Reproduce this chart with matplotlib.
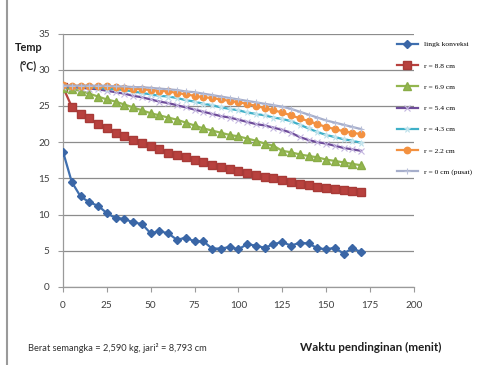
import matplotlib
matplotlib.use("Agg")
import matplotlib.pyplot as plt
from matplotlib.lines import Line2D

# Cooling time (minutes), every 5 minutes
waktu = list(range(0, 175, 5))

lingk_konveksi = [18.7, 14.5, 12.5, 11.7, 11.2, 10.2, 9.5, 9.4, 8.9, 8.7, 7.4, 7.7,
                  7.4, 6.5, 6.8, 6.3, 6.3, 5.3, 5.3, 5.5, 5.2, 5.9, 5.7, 5.4, 5.9,
                  6.2, 5.7, 6.1, 6.0, 5.35, 5.2, 5.4, 4.6, 5.35, 4.8]
r_8_8 = [27.6, 24.9, 23.9, 23.3, 22.5, 21.9, 21.2, 20.8, 20.3, 19.85, 19.4, 19.0,
         18.5, 18.2, 17.9, 17.5, 17.2, 16.9, 16.6, 16.3, 16.0, 15.8, 15.5, 15.2,
         15.0, 14.7, 14.45, 14.25, 14.05, 13.85, 13.7, 13.5, 13.35, 13.2, 13.1]
r_6_9 = [27.5, 27.3, 27.1, 26.7, 26.3, 25.9, 25.6, 25.2, 24.8, 24.4, 24.0, 23.7,
         23.4, 23.1, 22.7, 22.3, 21.9, 21.6, 21.3, 21.0, 20.8, 20.5, 20.2, 19.8,
         19.5, 18.8, 18.6, 18.3, 18.1, 17.9, 17.6, 17.4, 17.2, 17.0, 16.8]
r_5_4 = [27.6, 27.6, 27.5, 27.4, 27.3, 27.1, 26.9, 26.7, 26.4, 26.2, 25.9, 25.6,
         25.4, 25.1, 24.8, 24.5, 24.2, 23.9, 23.6, 23.4, 23.1, 22.8, 22.5, 22.3,
         22.0, 21.7, 21.3, 20.7, 20.3, 20.0, 19.8, 19.5, 19.2, 19.0, 18.8]
r_4_3 = [27.7, 27.7, 27.7, 27.6, 27.5, 27.4, 27.3, 27.2, 27.0, 26.8, 26.6, 26.4,
         26.3, 26.1, 25.8, 25.6, 25.3, 25.1, 24.8, 24.6, 24.4, 24.1, 23.9, 23.7,
         23.4, 23.2, 22.9, 22.4, 21.9, 21.4, 21.0, 20.7, 20.4, 20.2, 19.9]
r_2_2 = [27.9, 27.8, 27.8, 27.8, 27.7, 27.7, 27.6, 27.5, 27.4, 27.3, 27.2, 27.1,
         27.0, 26.8, 26.6, 26.4, 26.2, 26.1, 25.9, 25.7, 25.5, 25.3, 25.0, 24.7,
         24.4, 24.1, 23.7, 23.3, 22.9, 22.5, 22.1, 21.8, 21.5, 21.3, 21.1]
r_0 = [27.8, 27.8, 27.8, 27.8, 27.8, 27.8, 27.7, 27.7, 27.6, 27.6, 27.5, 27.4,
       27.3, 27.2, 27.0, 26.9, 26.7, 26.5, 26.3, 26.1, 25.9, 25.7, 25.5, 25.3,
       25.1, 24.9, 24.6, 24.2, 23.8, 23.4, 23.0, 22.7, 22.4, 22.1, 21.8]

labels = ["lingk konveksi", "r = 8.8 cm", "r = 6.9 cm", "r = 5.4 cm",
          "r = 4.3 cm", "r = 2.2 cm", "r = 0 cm (pusat)"]
x_ticks = [0, 25, 50, 75, 100, 125, 150, 175, 200]
y_ticks = [0, 5, 10, 15, 20, 25, 30, 35]

fig = plt.figure(figsize=(4.92, 3.65), dpi=100)
fig.patch.set_facecolor("white")
ax = fig.add_axes([0.128, 0.214, 0.713, 0.694])

styles = [
    dict(color="#3F6FAF", marker="D", ms=4.2, mfc="#3A66A6", mec="#3A66A6"),
    dict(color="#B8413E", marker="s", ms=5.2, mfc="#B8413E", mec="#A83A37"),
    dict(color="#93B64F", marker="^", ms=5.8, mfc="#93B64F", mec="#8AAD48"),
    dict(color="#6E4C9A", marker="x", ms=5.0, mfc="#C4B6E0", mec="#C4B6E0", mew=0.8),
    dict(color="#3FB0C8", marker="*", ms=5.0, mfc="#CDE8F0", mec="#BFE2EC", mew=0.5),
    dict(color="#F39140", marker="o", ms=4.6, mfc="#F39140", mec="#F39140"),
    dict(color="#A6AECB", marker="+", ms=5.0, mfc="#B8BFD8", mec="#B8BFD8", mew=0.8),
]
series = [lingk_konveksi, r_8_8, r_6_9, r_5_4, r_4_3, r_2_2, r_0]
order = [6, 5, 4, 3, 2, 1, 0]
handles = [None] * len(series)
for i in order:
    st = dict(styles[i])
    (h,) = ax.plot(waktu, series[i], lw=1.6, label=labels[i], zorder=3 + i, **st)
    handles[i] = h

ax.set_xlim(0, 200)
ax.set_ylim(0, 35)
ax.set_xticks(x_ticks)
ax.set_yticks(y_ticks)
ax.yaxis.grid(True, color="#8C8C8C", lw=0.9)
ax.set_axisbelow(True)
for s in ["top", "right"]:
    ax.spines[s].set_visible(False)
for s in ["left", "bottom"]:
    ax.spines[s].set_color("#9A9A9A")
    ax.spines[s].set_linewidth(0.9)
ax.tick_params(axis="both", colors="#9A9A9A", labelcolor="#404040",
               labelsize=7.2, length=3.5, width=0.8, direction="out")
ax.tick_params(axis="x", pad=7)
ax.tick_params(axis="y", pad=6)
for lab in ax.get_xticklabels() + ax.get_yticklabels():
    lab.set_family("Lato")

# axis titles
fig.text(0.059, 0.870, "Temp", fontsize=7.8, fontweight="bold", family="Lato",
         ha="center", va="center", color="#202020")
fig.text(0.057, 0.820, "(°C)", fontsize=7.6, fontweight="bold", family="Lato",
         ha="center", va="center", color="#202020")
fig.text(0.610, 0.048, "Waktu pendinginan (menit)", fontsize=8.4,
         fontweight="bold", family="Lato", ha="left", va="center", color="#202020")
fig.text(0.057, 0.046, "Berat semangka = 2,590 kg, jari² = 8,793 cm", fontsize=6.7,
         family="Lato", ha="left", va="center", color="#303030")

fig.legend(handles=handles, labels=labels, loc="upper left",
           bbox_to_anchor=(0.806, 0.887), frameon=False, borderpad=0,
           borderaxespad=0, handlelength=2.8, handletextpad=0.8,
           labelspacing=2.0, prop=dict(family="Liberation Serif", size=5.4))

# chart area frame edge
fig.add_artist(Line2D([0.014, 0.014], [0.0, 1.0], color="#9A9A9A", lw=1.5,
                      transform=fig.transFigure))

fig.savefig("out.png", dpi=100, facecolor="white")
